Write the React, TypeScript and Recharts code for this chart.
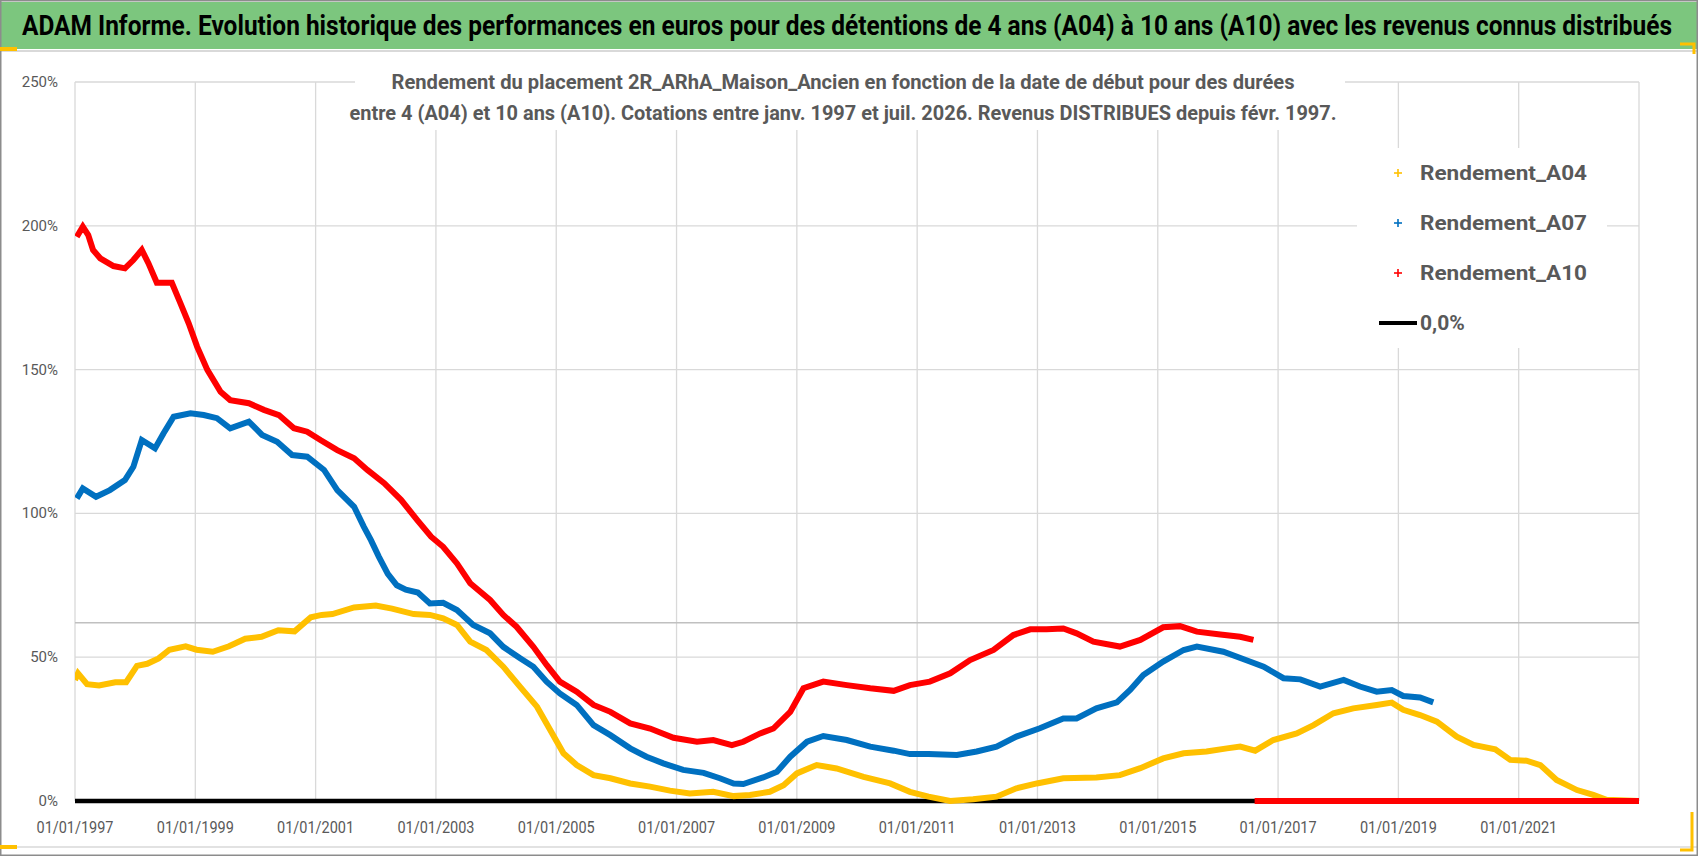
import React from 'react'
import { LineChart, Line, XAxis, YAxis, CartesianGrid, ReferenceLine } from 'recharts'

// dates en années décimales (date de début du placement)
const a04Dates = [
  1997.0, 1997.05, 1997.2, 1997.4, 1997.67, 1997.85, 1998.03, 1998.2, 1998.39, 1998.57, 1998.84, 1999.02,
  1999.29, 1999.56, 1999.83, 2000.1, 2000.38, 2000.65, 2000.92, 2001.1, 2001.28, 2001.64, 2002.0, 2002.27,
  2002.63, 2002.9, 2003.12, 2003.35, 2003.57, 2003.84, 2004.12, 2004.4, 2004.68, 2004.9, 2005.12, 2005.34,
  2005.62, 2005.9, 2006.23, 2006.56, 2006.89, 2007.22, 2007.61, 2007.95, 2008.22, 2008.55, 2008.78, 2009.0,
  2009.33, 2009.66, 2010.11, 2010.55, 2010.88, 2011.19, 2011.55, 2011.93, 2012.32, 2012.65, 2012.99, 2013.43,
  2013.98, 2014.37, 2014.71, 2015.09, 2015.43, 2015.81, 2016.15, 2016.37, 2016.62, 2016.92, 2017.31, 2017.59,
  2017.92, 2018.25, 2018.64, 2018.89, 2019.08, 2019.36, 2019.64, 2019.97, 2020.25, 2020.61, 2020.86, 2021.13,
  2021.36, 2021.63, 2021.97, 2022.24, 2022.46, 2022.99,
]
const a04Values = [
  42.1, 44.4, 40.6, 40.2, 41.3, 41.3, 47.0, 47.7, 49.6, 52.6, 53.8, 52.6,
  51.9, 53.8, 56.4, 57.1, 59.4, 59.0, 63.9, 64.7, 65.0, 67.3, 68.0, 66.9,
  65.0, 64.7, 63.5, 61.2, 55.4, 52.5, 46.7, 39.7, 32.8, 24.7, 16.6, 12.5,
  9.0, 7.9, 6.1, 5.0, 3.6, 2.6, 3.2, 1.7, 2.1, 3.2, 5.5, 9.6,
  12.5, 11.3, 8.4, 6.1, 3.2, 1.5, 0.0, 0.6, 1.5, 4.4, 6.1, 7.9,
  8.2, 9.0, 11.4, 14.8, 16.6, 17.2, 18.3, 18.9, 17.5, 21.2, 23.5, 26.4,
  30.5, 32.2, 33.4, 34.2, 31.7, 29.9, 27.6, 22.4, 19.5, 18.0, 14.3, 14.0,
  12.5, 7.3, 3.8, 2.1, 0.4, 0.0,
]

const a07Dates = [
  1997.03, 1997.13, 1997.35, 1997.58, 1997.83, 1997.97, 1998.11, 1998.33, 1998.47, 1998.64, 1998.92, 1999.14,
  1999.36, 1999.58, 1999.89, 2000.11, 2000.36, 2000.61, 2000.86, 2001.14, 2001.36, 2001.64, 2001.8, 2001.92,
  2002.05, 2002.2, 2002.35, 2002.5, 2002.7, 2002.9, 2003.12, 2003.35, 2003.62, 2003.9, 2004.12, 2004.4,
  2004.62, 2004.84, 2005.06, 2005.34, 2005.62, 2005.9, 2006.23, 2006.5, 2006.78, 2007.11, 2007.45, 2007.72,
  2007.95, 2008.11, 2008.44, 2008.67, 2008.89, 2009.17, 2009.44, 2009.83, 2010.22, 2010.61, 2010.88, 2011.19,
  2011.66, 2011.99, 2012.32, 2012.65, 2013.04, 2013.43, 2013.65, 2013.98, 2014.32, 2014.54, 2014.76, 2015.09,
  2015.43, 2015.65, 2016.09, 2016.53, 2016.76, 2017.09, 2017.37, 2017.7, 2018.09, 2018.36, 2018.64, 2018.89,
  2019.08, 2019.36, 2019.58,
]
const a07Values = [
  105.2, 108.7, 105.8, 108.1, 111.6, 116.2, 125.5, 122.6, 127.8, 133.6, 134.8, 134.2,
  133.1, 129.6, 131.9, 127.3, 124.9, 120.3, 119.7, 115.1, 108.1, 102.3, 95.4, 90.7,
  85.0, 79.0, 75.0, 73.5, 72.5, 68.7, 68.9, 66.4, 61.2, 58.3, 53.6, 49.6,
  46.7, 41.5, 37.4, 33.4, 26.4, 22.9, 18.3, 15.4, 13.1, 10.8, 9.8, 7.9,
  6.1, 5.9, 8.2, 10.2, 15.4, 20.6, 22.6, 21.2, 18.9, 17.5, 16.3, 16.3,
  16.0, 17.2, 18.9, 22.4, 25.3, 28.7, 28.7, 32.2, 34.3, 38.6, 43.8, 48.5,
  52.5, 53.7, 51.9, 48.5, 46.7, 42.7, 42.3, 39.8, 42.1, 39.8, 38.0, 38.6,
  36.5, 36.0, 34.3,
]

// A10 : rendements jusqu'en 2016, puis valeurs nulles (après la coupure)
const a10Dates = [
  1997.03, 1997.13, 1997.22, 1997.3, 1997.42, 1997.64, 1997.83, 1997.97, 1998.11, 1998.22, 1998.36, 1998.61,
  1998.75, 1998.89, 1999.03, 1999.2, 1999.42, 1999.58, 1999.89, 2000.14, 2000.39, 2000.64, 2000.86, 2001.08,
  2001.36, 2001.64, 2001.86, 2002.14, 2002.42, 2002.69, 2002.92, 2003.12, 2003.35, 2003.57, 2003.9, 2004.12,
  2004.34, 2004.62, 2004.84, 2005.06, 2005.34, 2005.62, 2005.9, 2006.23, 2006.56, 2006.95, 2007.34, 2007.61,
  2007.92, 2008.11, 2008.39, 2008.61, 2008.89, 2009.11, 2009.44, 2009.83, 2010.22, 2010.61, 2010.88, 2011.21,
  2011.55, 2011.88, 2012.27, 2012.6, 2012.88, 2013.15, 2013.43, 2013.65, 2013.93, 2014.37, 2014.71, 2015.09,
  2015.37, 2015.65, 2016.04, 2016.37, 2016.59, 2016.6, 2016.61, 2023.0,
]
const a10Values = [
  196.2, 199.7, 196.8, 191.6, 188.7, 186.0, 185.2, 188.1, 191.6, 187.0, 180.2, 180.2,
  173.2, 166.1, 158.0, 149.9, 142.3, 139.4, 138.3, 136.0, 134.2, 129.6, 128.4, 125.5,
  122.0, 119.2, 115.1, 110.5, 104.7, 97.7, 91.9, 88.4, 82.6, 75.7, 69.9, 64.7,
  60.6, 53.6, 47.3, 41.5, 38.0, 33.4, 31.0, 27.0, 25.2, 22.0, 20.6, 21.2,
  19.4, 20.6, 23.5, 25.2, 31.0, 39.2, 41.5, 40.3, 39.2, 38.3, 40.3, 41.5,
  44.4, 49.0, 52.5, 57.7, 59.7, 59.7, 60.0, 58.3, 55.4, 53.7, 56.0, 60.4,
  60.8, 58.9, 57.9, 57.1, 56.0, null, 0, 0,
]

const zeroDates = [1997.0, 2023.0]
const zeroValues = [0, 0]

const xTicks = [1997, 1999, 2001, 2003, 2005, 2007, 2009, 2011, 2013, 2015, 2017, 2019, 2021]
const yTicks = [0, 50, 100, 150, 200, 250]
const refLevel = 62

const seriesNames = ['Rendement_A04', 'Rendement_A07', 'Rendement_A10', '0,0%']
const seriesColors = ['#FFC000', '#0070C0', '#FF0000', '#000000']

const TITLE =
  'ADAM Informe. Evolution historique des performances en euros pour des détentions de 4 ans (A04) à 10 ans (A10) avec les revenus connus distribués'
const SUB1 = 'Rendement du placement 2R_ARhA_Maison_Ancien en fonction de la date de début pour des durées'
const SUB2 =
  'entre 4 (A04) et 10 ans (A10). Cotations entre janv. 1997 et juil. 2026. Revenus DISTRIBUES depuis févr. 1997.'

const toRows = (dates: number[], values: (number | null)[]) => dates.map((t, i) => ({ t, v: values[i] }))

const a04Data = toRows(a04Dates, a04Values)
const a07Data = toRows(a07Dates, a07Values)
const a10Data = toRows(a10Dates, a10Values)
const zeroData = toRows(zeroDates, zeroValues)

const GREY = '#595959'
const FONT = 'Roboto, "Open Sans", sans-serif'
const TITLE_SCALE = 0.78

const XTick = (p: any) => (
  <text
    x={p.x}
    y={p.y + 32}
    textAnchor="middle"
    fontSize={16}
    fontFamily={FONT}
    fill={GREY}
    textLength={77}
    lengthAdjust="spacingAndGlyphs"
  >
    {`01/01/${p.payload.value}`}
  </text>
)

const YTick = (p: any) => (
  <text x={p.x - 17} y={p.y + 5} textAnchor="end" fontSize={15} fontFamily={FONT} fill={GREY}>
    {`${p.payload.value}%`}
  </text>
)

function LegendBox() {
  const textX = 63
  return (
    <svg
      width={250}
      height={200}
      style={{ position: 'absolute', left: 1357, top: 148, background: '#fff', pointerEvents: 'none' }}
    >
      {seriesNames.map((name, i) => {
        const cy = 25 + i * 50
        const isZero = name === '0,0%'
        const mx = textX - 22
        return (
          <g key={name}>
            {isZero ? (
              <line x1={textX - 41} x2={textX - 3} y1={cy} y2={cy} stroke={seriesColors[i]} strokeWidth={4} />
            ) : (
              <g stroke={seriesColors[i]} strokeWidth={1.6}>
                <line x1={mx - 4} x2={mx + 4} y1={cy} y2={cy} />
                <line x1={mx} x2={mx} y1={cy - 4} y2={cy + 4} />
              </g>
            )}
            <text
              x={textX}
              y={cy + 7}
              fontSize={21}
              fontWeight="bold"
              fontFamily={FONT}
              fill={GREY}
              {...(isZero ? {} : { textLength: 167, lengthAdjust: 'spacingAndGlyphs' })}
            >
              {name}
            </text>
          </g>
        )
      })}
    </svg>
  )
}

export default function App() {
  return (
    <div
      style={{
        position: 'fixed',
        left: 0,
        top: 0,
        width: 1698,
        height: 856,
        background: '#fff',
        overflow: 'hidden',
      }}
    >
      <LineChart width={1698} height={856} margin={{ top: 82, right: 59, bottom: 10, left: 15 }}>
        <CartesianGrid stroke="#D9D9D9" strokeWidth={1.3} />
        <XAxis
          type="number"
          dataKey="t"
          domain={[1997, 2023]}
          ticks={xTicks}
          interval={0}
          allowDataOverflow
          axisLine={false}
          tickLine={false}
          tickSize={0}
          tickMargin={0}
          height={45}
          tick={<XTick />}
        />
        <YAxis
          type="number"
          domain={[0, 250]}
          ticks={yTicks}
          interval={0}
          axisLine={false}
          tickLine={false}
          tickSize={0}
          tickMargin={0}
          width={60}
          tick={<YTick />}
        />
        <ReferenceLine y={refLevel} stroke="#C0C0C0" strokeWidth={1.5} />
        <Line
          data={zeroData}
          dataKey="v"
          name={seriesNames[3]}
          type="linear"
          stroke={seriesColors[3]}
          strokeWidth={4.5}
          dot={false}
          isAnimationActive={false}
        />
        <Line
          data={a04Data}
          dataKey="v"
          name={seriesNames[0]}
          type="linear"
          stroke={seriesColors[0]}
          strokeWidth={6}
          dot={false}
          isAnimationActive={false}
        />
        <Line
          data={a07Data}
          dataKey="v"
          name={seriesNames[1]}
          type="linear"
          stroke={seriesColors[1]}
          strokeWidth={6}
          dot={false}
          isAnimationActive={false}
        />
        <Line
          data={a10Data}
          dataKey="v"
          name={seriesNames[2]}
          type="linear"
          stroke={seriesColors[2]}
          strokeWidth={6}
          dot={false}
          isAnimationActive={false}
        />
      </LineChart>

      <LegendBox />

      <svg
        width={1698}
        height={856}
        style={{ position: 'absolute', left: 0, top: 0, pointerEvents: 'none' }}
      >
        <rect x={0} y={2} width={1698} height={47} fill="#7CC67E" />
        <line x1={0} x2={1698} y1={51} y2={51} stroke="#D9D9D9" strokeWidth={2} />
        <line x1={0} x2={1698} y1={847} y2={847} stroke="#D9D9D9" strokeWidth={1.5} />
        <rect x={0.75} y={0.75} width={1696.5} height={854.5} fill="none" stroke="#8C8C8C" strokeWidth={1.5} />
        <g transform={`translate(847 35) scale(${TITLE_SCALE} 1)`}>
          <text
            x={0}
            y={0}
            textAnchor="middle"
            fontSize={27}
            fontWeight="bold"
            fontFamily={FONT}
            fill="#000"
            textLength={1650 / TITLE_SCALE}
            lengthAdjust="spacingAndGlyphs"
          >
            {TITLE}
          </text>
        </g>
        <rect x={355} y={66} width={990} height={64} fill="#fff" />
        <text
          x={843}
          y={89}
          textAnchor="middle"
          fontSize={20}
          fontWeight="bold"
          fontFamily={FONT}
          fill={GREY}
          textLength={903}
          lengthAdjust="spacingAndGlyphs"
        >
          {SUB1}
        </text>
        <text
          x={843}
          y={120}
          textAnchor="middle"
          fontSize={20}
          fontWeight="bold"
          fontFamily={FONT}
          fill={GREY}
          textLength={987}
          lengthAdjust="spacingAndGlyphs"
        >
          {SUB2}
        </text>
        {/* poignées de sélection jaunes */}
        <rect x={0} y={47} width={17} height={4} fill="#FFC000" />
        <rect x={0} y={845} width={17} height={4} fill="#FFC000" />
        <path d="M1680 44 H1694 V54" fill="none" stroke="#FFC000" strokeWidth={3} />
        <path d="M1692 812 V850 H1680" fill="none" stroke="#FFC000" strokeWidth={3} />
      </svg>
    </div>
  )
}
